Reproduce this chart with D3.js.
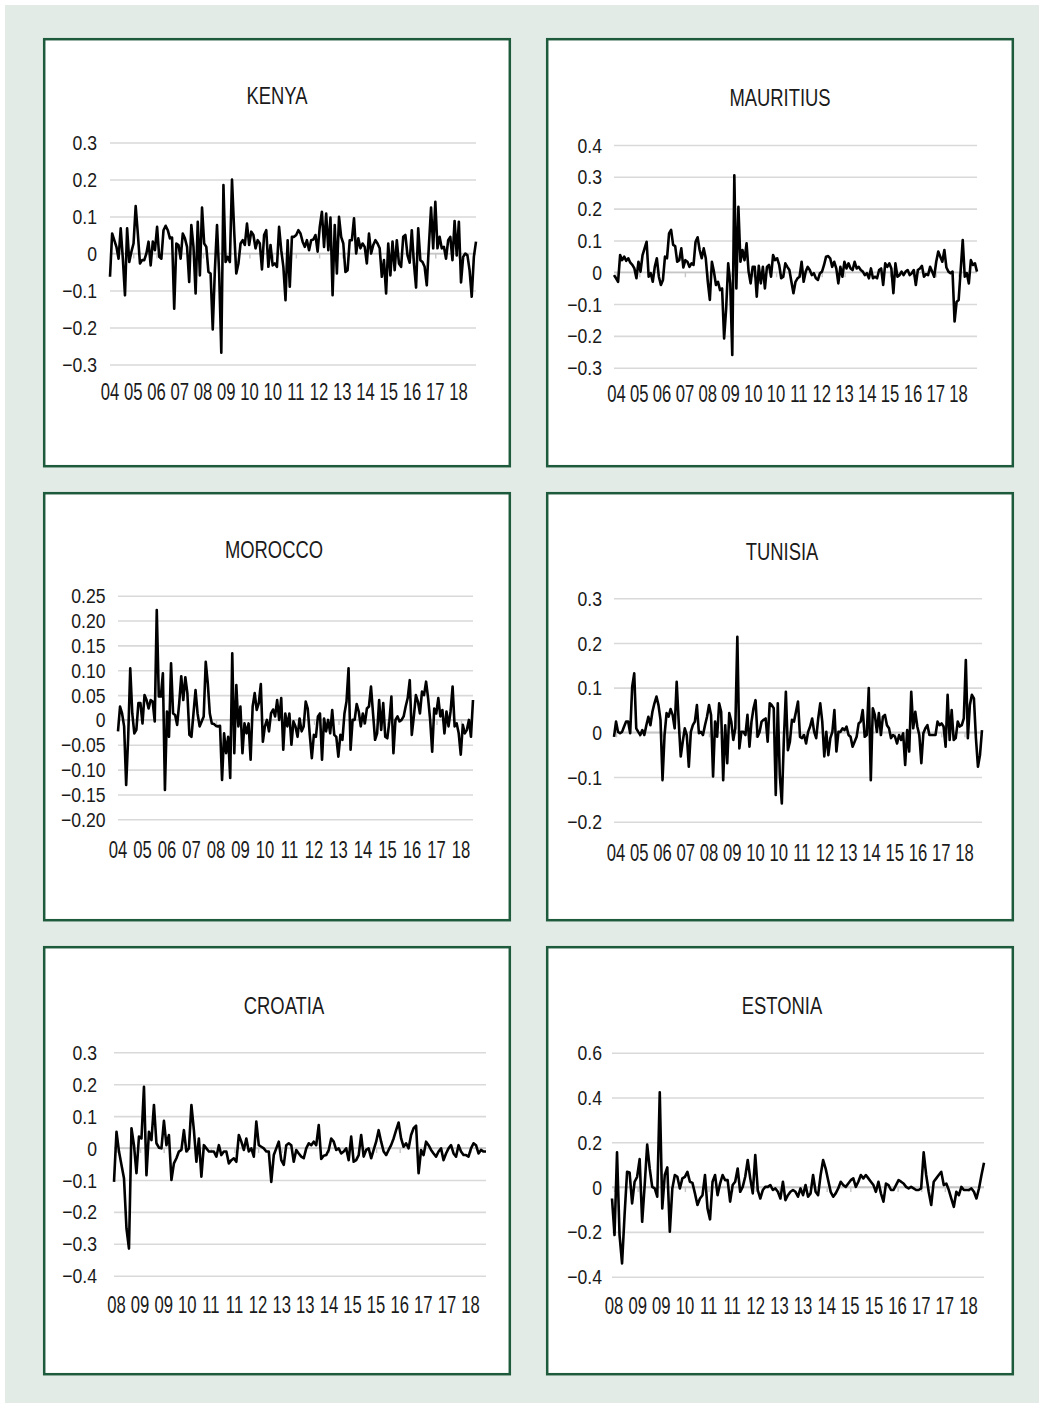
<!DOCTYPE html>
<html>
<head>
<meta charset="utf-8">
<script src="https://cdn.jsdelivr.net/npm/d3@7"></script>
<style>
  html, body { margin: 0; padding: 0; background: #ffffff; }
  svg { display: block; }
</style>
</head>
<body>
<svg id="chart" width="1044" height="1408"></svg>
<script>
// ---------------- DATA ----------------
const titles = ["KENYA", "MAURITIUS", "MOROCCO", "TUNISIA", "CROATIA", "ESTONIA"];

const xLabelsKenya = ["04","05","06","07","08","09","10","10","11","12","13","14","15","16","17","18"];
const xLabelsMauritius = ["04","05","06","07","08","09","10","10","11","12","13","14","15","16","17","18"];
const xLabelsMorocco = ["04","05","06","07","08","09","10","11","12","13","14","15","16","17","18"];
const xLabelsTunisia = ["04","05","06","07","08","09","10","10","11","12","13","14","15","16","17","18"];
const xLabelsCroatia = ["08","09","09","10","11","11","12","13","13","14","15","15","16","17","17","18"];
const xLabelsEstonia = ["08","09","09","10","11","11","12","13","13","14","15","15","16","17","17","18"];

const yTicksKenya = [0.3, 0.2, 0.1, 0, -0.1, -0.2, -0.3];
const yTicksMauritius = [0.4, 0.3, 0.2, 0.1, 0, -0.1, -0.2, -0.3];
const yTicksMorocco = [0.25, 0.20, 0.15, 0.10, 0.05, 0, -0.05, -0.10, -0.15, -0.20];
const yTicksTunisia = [0.3, 0.2, 0.1, 0, -0.1, -0.2];
const yTicksCroatia = [0.3, 0.2, 0.1, 0, -0.1, -0.2, -0.3, -0.4];
const yTicksEstonia = [0.6, 0.4, 0.2, 0, -0.2, -0.4];

const kenyaValues = [
-0.063,0.054,0.036,0.018,-0.014,0.068,-0.014,-0.113,0.068,-0.023,0.005,0.027,0.128,0.054,-0.027,-0.018,-0.018,0,0.032,-0.032,
0.032,0.009,0.072,-0.009,-0.014,0.063,0.075,0.063,0.041,0.043,-0.149,0.027,0.023,-0.014,0.054,0.041,0.018,-0.077,0.077,0.018,
-0.108,0.086,-0.059,0.124,0.027,0.018,-0.05,-0.054,-0.205,-0.045,0.077,-0.054,-0.268,0.185,-0.023,-0.009,-0.023,0.2,0.063,-0.054,
-0.027,0.027,0.036,0.023,0.081,0.023,0.059,0.05,0.014,0.036,0.027,-0.043,0.05,0.063,-0.036,0.023,-0.032,-0.027,-0.036,0.072,
0.009,-0.036,-0.126,0.036,-0.09,0.045,0.045,0.05,0.063,0.054,0.032,0.018,0.036,0.009,0.036,0.038,0.05,0.005,0.072,0.113,
0.018,0.108,0.009,0.097,-0.113,0.077,-0.054,0.099,0.045,0.027,-0.05,-0.045,0.036,0.036,0.095,0,0.041,0.014,0.027,0.018,
-0.027,0.054,0,0.023,0.036,0.027,0.014,-0.063,-0.018,-0.108,0.027,-0.059,0.032,-0.045,0.036,-0.027,-0.036,0.045,0.05,-0.005,
-0.025,0.063,-0.027,-0.092,0.068,-0.018,-0.023,-0.036,-0.086,0.023,0.124,0.014,0.14,0.014,0.045,0.014,0.018,-0.014,0.036,0.045,
-0.018,0.088,-0.005,0.086,-0.078,-0.009,0,-0.005,-0.045,-0.117,-0.009,0.032
];

const mauritiusValues = [
-0.009,-0.019,-0.030,0.054,0.038,0.049,0.036,0.044,0.030,0.023,0.012,-0.019,0.033,0.002,0.054,0.075,0.096,-0.014,-0.003,-0.030,
0.017,0.044,-0.014,-0.040,-0.024,0.049,0.044,0.122,0.133,0.086,0.082,0.033,0.038,0.075,0.015,0.038,0.033,0.017,0.028,0.023,
0.096,0.110,0.070,0.044,0.075,0.044,-0.030,-0.087,0.033,0.002,-0.040,-0.030,-0.056,-0.051,-0.208,-0.114,0.028,-0.035,-0.260,0.305,
-0.051,0.206,0.033,0.070,0.038,0.091,0.002,-0.035,0.017,0.017,-0.077,0.020,-0.035,0.017,-0.051,0.017,0.023,-0.014,0.054,0.038,
0.044,0.023,-0.019,-0.014,0.028,0.017,0.007,-0.030,-0.066,-0.030,-0.019,-0.014,0.033,-0.030,0.002,0.017,0.007,-0.009,-0.003,-0.019,
-0.024,-0.003,0.002,0.023,0.049,0.051,0.044,0.017,0.033,0.012,-0.035,0.017,-0.014,0.033,0.012,0.028,0.012,0.007,0.033,0.012,
0.017,0.007,0.002,-0.009,-0.003,-0.019,0.012,-0.019,-0.014,-0.019,0.007,0.012,-0.040,0.028,0.017,0.028,0.012,-0.066,0.028,-0.014,
-0.009,0.002,-0.009,0.002,0.007,-0.009,-0.003,0.007,-0.040,0.007,0.012,0.020,-0.014,-0.006,-0.009,0.017,0.002,-0.014,0.033,0.065,
0.049,0.033,0.070,0.015,0.002,-0.003,0.002,-0.155,-0.093,-0.087,0.007,0.101,-0.014,-0.003,-0.035,0.038,0.023,0.028,0.002
];

const moroccoValues = [
-0.023,0.027,0.013,-0.013,-0.131,-0.034,0.104,0.013,-0.027,-0.020,0.034,0.034,-0.007,0.050,0.040,0.023,0.040,0.037,-0.003,0.221,
0.047,0.047,0.094,-0.141,0.017,-0.034,0.114,0.013,0.010,-0.010,0.034,0.088,0.040,0.086,0.054,-0.030,-0.034,0.013,0.060,0.013,
-0.013,-0.003,0.007,0.117,0.074,0.013,-0.007,-0.008,-0.012,-0.013,-0.012,-0.121,-0.027,-0.067,-0.034,-0.117,0.134,-0.067,0.070,-0.013,
0.027,-0.067,-0.007,-0.027,-0.007,-0.080,0.027,0.054,0.020,0.034,0.072,-0.044,-0.013,0.000,-0.023,0.013,0.021,0.007,0.040,0.000,
0.044,-0.060,0.013,-0.013,0.013,-0.050,-0.003,-0.013,-0.034,0.003,-0.023,-0.013,0.037,0.023,-0.030,-0.077,-0.030,-0.034,0.007,0.013,
-0.080,0.003,-0.023,0.000,-0.027,0.020,-0.030,-0.034,-0.074,-0.030,-0.040,0.013,0.037,0.104,-0.060,0.000,0.000,0.032,0.017,-0.013,
0.013,-0.007,0.023,0.027,0.067,0.013,-0.040,-0.027,0.040,-0.020,0.034,-0.034,-0.037,-0.003,0.047,-0.067,0.000,0.007,-0.003,0.000,
0.007,0.027,0.044,0.080,-0.030,0.007,0.050,0.037,0.013,0.057,0.050,0.077,0.044,0.000,-0.064,0.023,0.013,0.044,0.007,0.020,
-0.027,0.017,-0.013,0.017,0.067,-0.013,-0.007,-0.027,-0.070,-0.010,-0.027,-0.020,0.000,-0.034,0.040
];

const tunisiaValues = [
-0.010,0.024,0.001,-0.002,0.001,0.013,0.024,0.024,-0.002,0.102,0.132,0.009,0.001,-0.006,0.005,-0.006,0.016,0.035,0.016,0.046,
0.065,0.080,0.061,0.028,-0.107,-0.006,0.043,0.035,0.052,0.039,0.009,0.113,0.024,-0.054,-0.021,0.009,-0.006,-0.077,0.001,0.016,
0.024,0.061,-0.002,0.001,-0.006,0.016,0.035,0.061,0.039,-0.099,0.024,-0.010,0.065,0.046,-0.107,0.016,-0.069,0.043,0.024,-0.017,
0.009,0.214,-0.036,0.001,0.001,-0.006,0.039,-0.032,0.024,0.054,0.072,-0.010,0.001,0.024,0.028,0.031,-0.021,0.065,0.061,0.054,
-0.140,0.065,-0.096,-0.159,-0.017,0.091,-0.040,-0.021,0.028,0.024,0.046,0.069,-0.010,-0.013,-0.006,-0.025,0.001,0.013,0.031,0.001,
-0.013,0.031,0.065,0.024,-0.054,0.001,-0.051,-0.013,0.001,0.050,-0.043,0.001,0.001,0.009,0.005,0.013,-0.006,-0.010,-0.032,-0.021,
-0.010,0.020,0.024,0.050,-0.010,-0.006,0.099,-0.107,0.054,0.039,0.001,0.043,-0.006,0.035,0.039,0.016,0.009,-0.013,-0.006,-0.010,
-0.025,-0.006,-0.017,-0.002,-0.073,0.005,-0.043,0.091,0.009,0.046,0.013,-0.006,-0.069,-0.002,0.009,0.016,-0.006,-0.006,-0.006,-0.006,
0.024,0.016,0.020,0.013,-0.032,0.084,-0.017,0.050,-0.017,-0.013,0.024,0.013,0.016,0.031,0.162,-0.013,0.061,0.084,0.076,-0.013,
-0.077,-0.051,0.005
];

const croatiaValues = [
-0.106,0.051,-0.011,-0.053,-0.095,-0.252,-0.315,0.062,0.009,-0.079,0.036,0.030,0.192,-0.085,0.051,0.025,0.135,0.015,0.001,-0.001,
0.085,0.009,0.041,-0.100,-0.048,-0.032,-0.011,-0.006,0.056,-0.011,-0.001,0.135,0.056,-0.043,0.030,-0.090,0.009,-0.001,-0.011,-0.011,
-0.011,-0.027,0.009,-0.022,-0.011,-0.011,-0.048,-0.038,-0.032,-0.043,0.041,0.020,-0.006,0.030,-0.011,-0.001,-0.027,0.083,0.009,
0.004,-0.001,-0.011,-0.011,-0.106,-0.022,-0.001,0.020,-0.038,-0.053,0.009,0.015,0.009,-0.043,-0.006,-0.017,-0.027,-0.032,-0.001,0.015,
0.009,0.020,0.009,0.072,-0.034,-0.024,-0.022,-0.006,0.030,0.020,-0.006,-0.001,-0.017,-0.011,-0.001,-0.038,0.036,-0.043,-0.038,-0.022,
0.041,-0.027,-0.006,-0.001,-0.032,-0.006,0.020,0.056,0.020,-0.011,-0.022,-0.006,0.009,0.030,0.056,0.080,0.030,0.004,0.015,-0.001,
0.041,0.062,0.070,-0.079,-0.006,-0.022,0.020,0.009,-0.006,-0.017,-0.027,-0.011,-0.001,-0.038,-0.017,-0.001,0.009,-0.017,-0.027,0.009,
-0.011,-0.022,-0.022,-0.027,-0.001,0.015,0.009,-0.017,-0.006,-0.011,-0.011
];

const estoniaValues = [
-0.051,-0.214,0.155,-0.214,-0.341,-0.125,0.068,0.065,-0.073,0.024,0.046,0.125,-0.155,0.009,0.190,0.083,0.001,-0.006,-0.043,0.423,
-0.095,0.054,0.088,-0.199,-0.006,0.054,0.046,-0.006,0.039,0.046,0.068,0.024,0.019,-0.028,-0.080,-0.051,-0.036,0.054,-0.095,-0.144,
0.024,0.054,-0.036,0.016,0.054,0.031,0.031,-0.065,0.009,0.024,0.083,-0.021,0.001,0.046,0.121,0.039,-0.028,0.143,
-0.013,-0.051,-0.013,0.001,0.001,0.009,-0.013,-0.006,-0.021,-0.051,0.024,-0.058,-0.036,-0.021,-0.013,-0.021,-0.043,-0.006,-0.036,0.009,
-0.043,-0.028,0.054,-0.021,-0.036,0.054,0.121,0.083,0.031,-0.021,-0.043,-0.028,-0.006,0.024,0.009,0.001,0.016,0.031,0.039,0.001,
0.024,0.054,0.039,0.054,0.039,0.024,0.009,-0.021,0.024,-0.028,-0.065,0.016,0.009,-0.013,-0.013,0.009,0.031,0.024,0.016,0.001,
-0.006,0.001,-0.006,-0.013,-0.013,-0.006,0.155,0.054,-0.021,-0.080,0.024,0.039,0.054,0.068,0.009,0.016,-0.013,-0.051,-0.088,-0.021,
-0.036,0.001,-0.013,-0.013,-0.013,-0.006,-0.021,-0.051,-0.006,0.054,0.109
];

// ---------------- LAYOUT (positions / styles only) ----------------
const layouts = [
  { box:[44.2,39.2,465.6,427], title:[277,104], x:[110,476], y:[364.5,142.5], ylabX:97,  xlabBase:400,  xlab:[110,458.5] },
  { box:[547.2,39.2,465.6,427], title:[780,106], x:[614,977], y:[367.7,145],   ylabX:602, xlabBase:401.5,xlab:[616.5,958.5] },
  { box:[44.2,493.2,465.6,427], title:[274,558], x:[118,473], y:[819.3,595.7], ylabX:105.5,xlabBase:858, xlab:[118,461] },
  { box:[547.2,493.2,465.6,427], title:[782,560], x:[614,982], y:[821.7,598.3], ylabX:602, xlabBase:861, xlab:[616,964.5] },
  { box:[44.2,947.2,465.6,427], title:[284,1014], x:[114,486], y:[1275.7,1052.3], ylabX:97, xlabBase:1313, xlab:[116.5,470.5] },
  { box:[547.2,947.2,465.6,427], title:[782,1014], x:[612,984], y:[1276.7,1052.7], ylabX:602, xlabBase:1314, xlab:[614,968.5] }
];

const series = [kenyaValues, mauritiusValues, moroccoValues, tunisiaValues, croatiaValues, estoniaValues];
const xLabelSets = [xLabelsKenya, xLabelsMauritius, xLabelsMorocco, xLabelsTunisia, xLabelsCroatia, xLabelsEstonia];
const yTickSets = [yTicksKenya, yTicksMauritius, yTicksMorocco, yTicksTunisia, yTicksCroatia, yTicksEstonia];

const FONT = '"Liberation Sans",Arial,sans-serif';
const TXT = "#1a1a1a";
const BG = "#e3ebe6";
const BORDER = "#1e5a3c";
const GRID = "#d9d9d9";

const svg = d3.select("#chart");
svg.append("rect").attr("x",0).attr("y",0).attr("width",1044).attr("height",1408).attr("fill","#ffffff");
svg.append("rect").attr("x",5).attr("y",5).attr("width",1034).attr("height",1398).attr("fill",BG);

function fmt(v, decimals) {
  if (v === 0) return "0";
  const s = Math.abs(v).toFixed(decimals);
  return (v < 0 ? "\u2212" : "") + s;
}

layouts.forEach((L, i) => {
  const g = svg.append("g");
  g.append("rect")
    .attr("x", L.box[0]).attr("y", L.box[1]).attr("width", L.box[2]).attr("height", L.box[3])
    .attr("fill", "#ffffff").attr("stroke", BORDER).attr("stroke-width", 2.5);

  g.append("text")
    .attr("transform", `translate(${L.title[0]},${L.title[1]}) scale(0.8,1)`)
    .attr("text-anchor", "middle")
    .attr("font-family", FONT).attr("font-size", 23).attr("fill", TXT)
    .text(titles[i]);

  const ticks = yTickSets[i];
  const yMin = d3.min(ticks), yMax = d3.max(ticks);
  const y = d3.scaleLinear().domain([yMin, yMax]).range(L.y);
  const vals = series[i];
  const x = d3.scaleLinear().domain([0, vals.length - 1]).range(L.x);
  const decimals = (i === 2) ? 2 : 1;

  // gridlines
  const yAxis = d3.axisLeft(y).tickValues(ticks).tickSize(-(L.x[1] - L.x[0])).tickFormat("");
  const ga = g.append("g").attr("transform", `translate(${L.x[0]},0)`).call(yAxis);
  ga.select(".domain").remove();
  ga.selectAll(".tick line").attr("stroke", GRID).attr("stroke-width", 1.6);

  // y labels (condensed)
  g.append("g").selectAll("text").data(ticks).join("text")
    .attr("transform", d => `translate(${L.ylabX},${y(d)}) scale(0.84,1)`)
    .attr("dy", "0.36em")
    .attr("text-anchor", "end")
    .attr("font-family", FONT).attr("font-size", 21).attr("fill", TXT)
    .text(d => fmt(d, decimals));

  // zero axis line with tick marks at label positions
  const xl = d3.scalePoint().domain(d3.range(xLabelSets[i].length)).range(L.xlab);
  const y0 = y(0);
  g.append("line").attr("x1", L.x[0]).attr("x2", L.x[1]).attr("y1", y0).attr("y2", y0)
    .attr("stroke", "#c6c6c6").attr("stroke-width", 1.6);
  const xAxis = d3.axisBottom(xl).tickSize(5).tickSizeOuter(0).tickFormat(() => "");
  const gx = g.append("g").attr("transform", `translate(0,${y0})`).call(xAxis);
  gx.select(".domain").remove();
  gx.selectAll(".tick line").attr("stroke", "#c6c6c6").attr("stroke-width", 1.4);

  // x labels (strongly condensed)
  g.append("g").selectAll("text").data(xLabelSets[i]).join("text")
    .attr("transform", (d, k) => `translate(${xl(k)},${L.xlabBase}) scale(0.68,1)`)
    .attr("text-anchor", "middle")
    .attr("font-family", FONT).attr("font-size", 24.5).attr("fill", TXT)
    .text(d => d);

  // series line
  const line = d3.line().x((d, k) => x(k)).y(d => y(d));
  g.append("path").datum(vals)
    .attr("d", line).attr("fill", "none").attr("stroke", "#000000")
    .attr("stroke-width", 2.6).attr("stroke-linejoin", "round");
});
</script>
</body>
</html>
